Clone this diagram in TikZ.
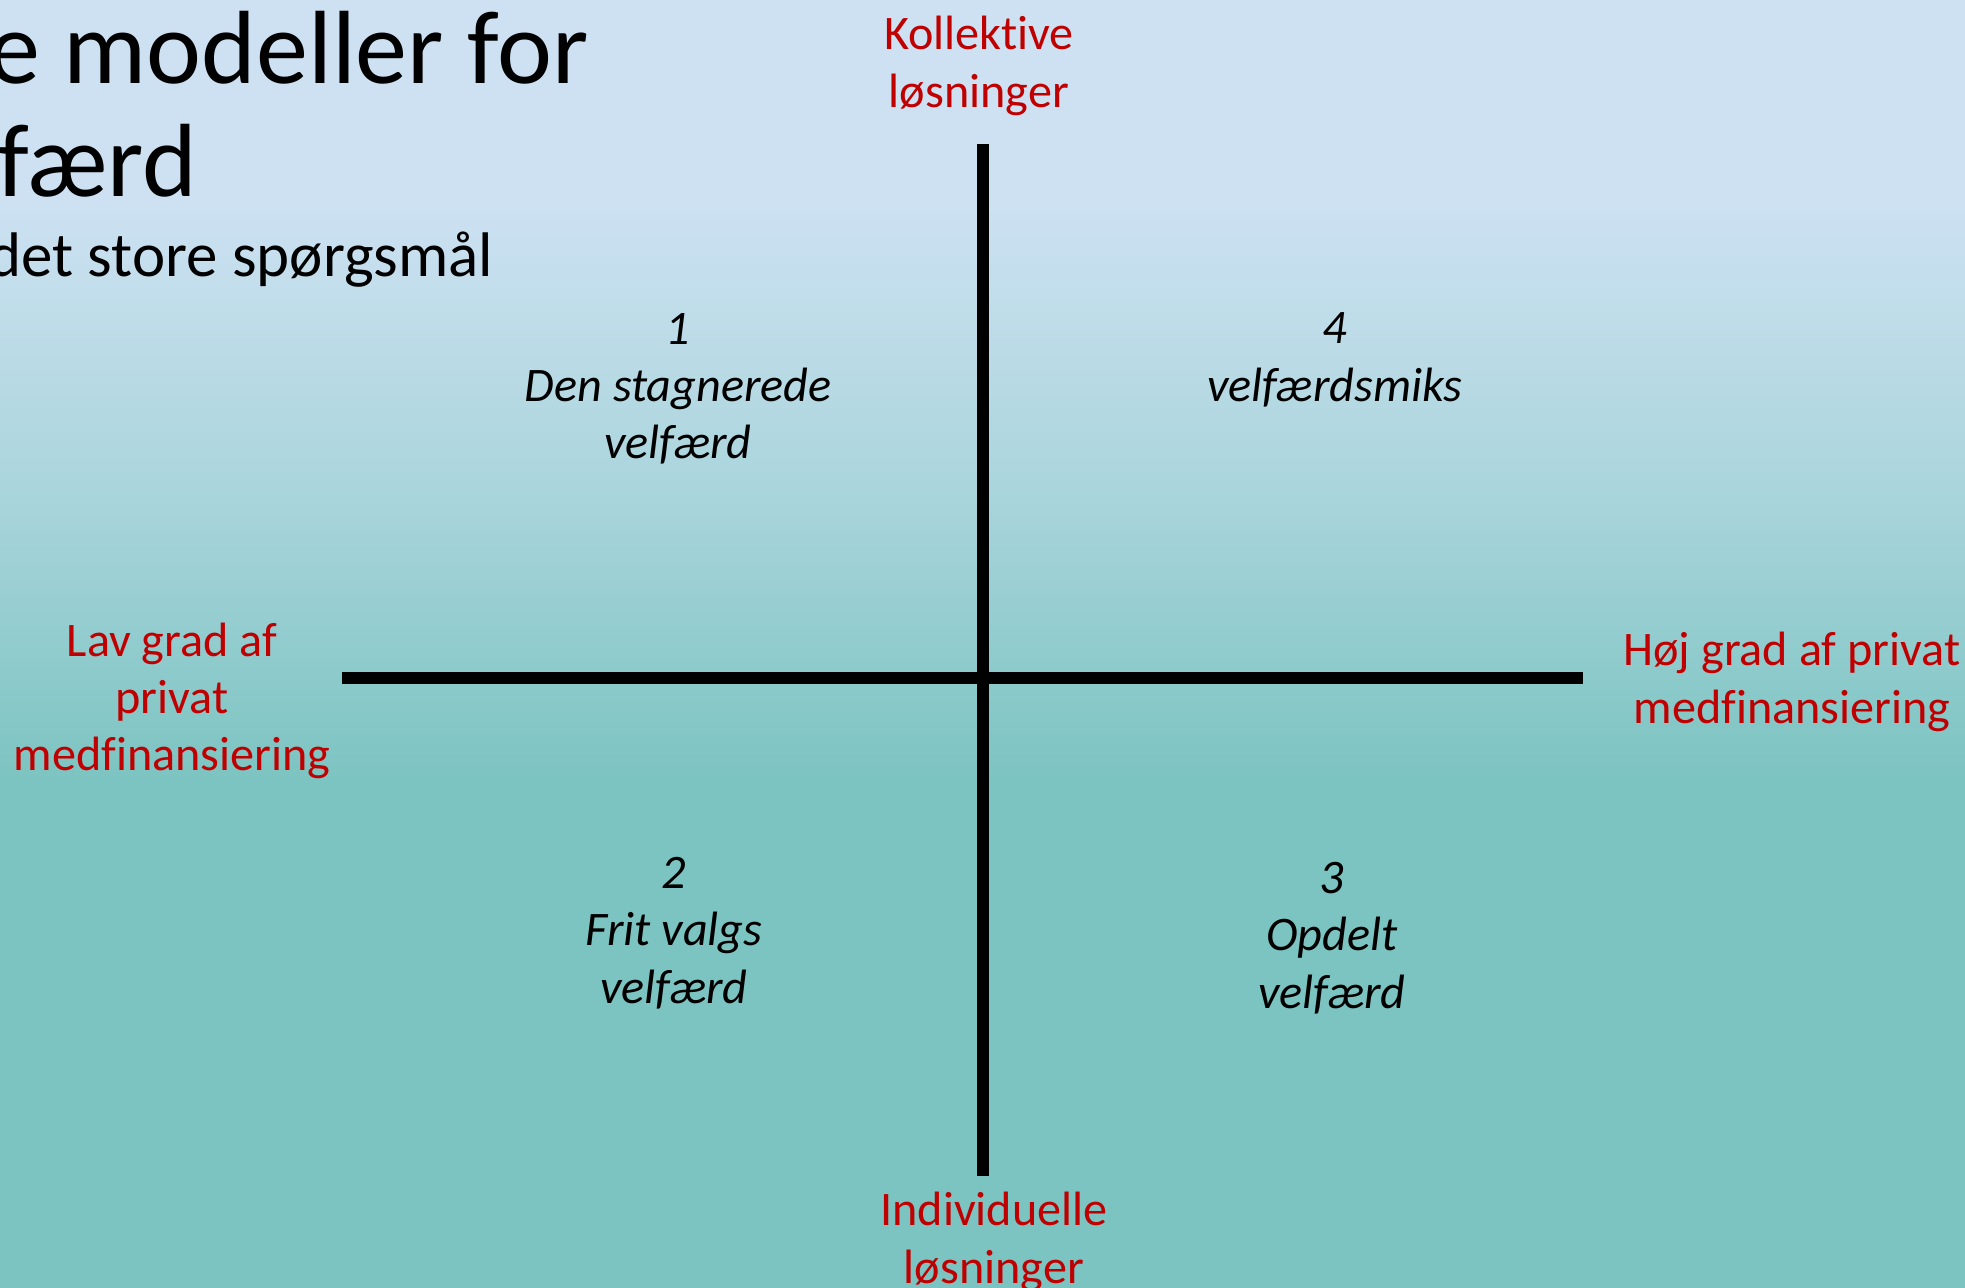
\documentclass[tikz,border=0pt]{standalone}
\usepackage{fontspec}
\setmainfont{Carlito}[Ligatures=NoCommon]
\definecolor{rodfarve}{RGB}{192,0,0}
\definecolor{bglys}{RGB}{205,225,242}
\definecolor{bgmid}{RGB}{173,214,222}
\definecolor{bgtyrk}{RGB}{124,196,193}
% baggrund: lys blaa foroven, tyrkis forneden
\pgfdeclareverticalshading{slidebg}{100bp}{color(0bp)=(bgtyrk); color(44.7bp)=(bgtyrk); color(56.8bp)=(bgmid); color(67.2bp)=(bglys); color(100bp)=(bglys)}

\begin{document}
\begin{tikzpicture}[x=0.01cm, y=-0.01cm,
		akse/.style={line width=3.3pt, black},
		rodtekst/.style={text=rodfarve, align=center, inner sep=0pt, font=\fontsize{13.7}{16.3}\selectfont},
		kvadrant/.style={align=center, inner sep=0pt, font=\itshape\fontsize{13.7}{16.3}\selectfont}]
		\useasboundingbox (0,0) rectangle (1965,1288);
		\clip (0,0) rectangle (1965,1288);
		\shade[shading=slidebg] (0,0) rectangle (1965,1288);
		%titel
		\node[anchor=base east, inner sep=0pt, font=\fontsize{29.6}{32}\selectfont] (titel1) at (589,84) {e modeller for};
		\node[anchor=base east, inner sep=0pt, font=\fontsize{29.6}{32}\selectfont] (titel2) at (198,197) {færd};
		\node[anchor=base east, inner sep=0pt, font=\fontsize{17.9}{21}\selectfont] (undertitel) at (494,277) {det store spørgsmål};
		%akser
		\coordinate (top) at (983,144);
		\coordinate (bund) at (983,1176);
		\coordinate (venstre) at (342,678);
		\coordinate (hojre) at (1583,678);
		\draw[akse] (venstre) -- (hojre);
		\draw[akse] (top) -- (bund);
		%akse-tekster
		\node[rodtekst] (kollektiv) at (979,66) {Kollektive\\ løsninger};
		\node[rodtekst] (individuel) at (994,1242) {Individuelle\\ løsninger};
		\node[rodtekst] (lav) at (172,701) {Lav grad af\\ privat\\ medfinansiering};
		\node[rodtekst] (hoj) at (1792,682) {Høj grad af privat\\ medfinansiering};
		%kvadranter
		\node[kvadrant] (q1) at (678,389) {1\\ Den stagnerede\\ velfærd};
		\node[kvadrant] (q4) at (1335,360) {4\\ velfærdsmiks};
		\node[kvadrant] (q2) at (674,933) {2\\ Frit valgs\\ velfærd};
		\node[kvadrant] (q3) at (1332,938) {3\\ Opdelt\\ velfærd};
	\end{tikzpicture}
\end{document}
